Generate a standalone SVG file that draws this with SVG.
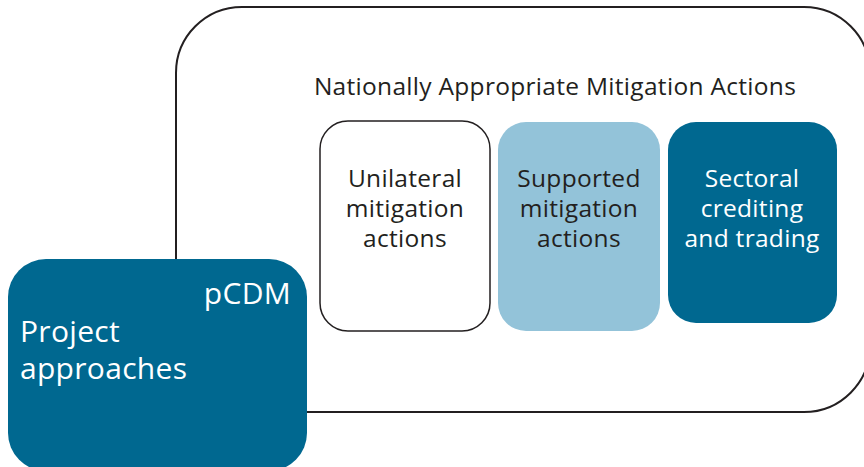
<svg xmlns="http://www.w3.org/2000/svg" width="864" height="467" viewBox="0 0 864 467">
<style>
text{font-family:"Open Sans","Noto Sans","Liberation Sans",sans-serif;}
.t{font-size:24.5px;fill:#231f20;text-anchor:middle;letter-spacing:0.3px;}
.w{fill:#ffffff;}
.dk{fill:#006890;}
.b{font-size:30px;fill:#ffffff;letter-spacing:0.3px;}
</style>
<rect width="864" height="467" fill="#ffffff"/>
<g id="namas">
<rect x="176" y="7" width="694" height="405" rx="66" ry="66" fill="#ffffff" stroke="#231f20" stroke-width="2"/>
<text x="555" y="95" class="t">Nationally Appropriate Mitigation Actions</text>
</g>
<g id="unilateral">
<rect x="320" y="121" width="170" height="210" rx="28" fill="#ffffff" stroke="#231f20" stroke-width="1.5"/>
<text class="t" x="405" y="187">Unilateral</text>
<text class="t" x="405" y="217">mitigation</text>
<text class="t" x="405" y="247">actions</text>
</g>
<g id="supported">
<rect x="498" y="122" width="162" height="209" rx="28" fill="#93c3d9"/>
<text class="t" x="579" y="187">Supported</text>
<text class="t" x="579" y="217">mitigation</text>
<text class="t" x="579" y="247">actions</text>
</g>
<g id="sectoral">
<rect x="668" y="122" width="169" height="201" rx="28" class="dk"/>
<text class="t w" x="752" y="187">Sectoral</text>
<text class="t w" x="752" y="217">crediting</text>
<text class="t w" x="752" y="247">and trading</text>
</g>
<g id="pcdm">
<rect x="8" y="259" width="299" height="212" rx="38" class="dk"/>
<text x="291" y="304" class="b" text-anchor="end">pCDM</text>
<text x="20" y="342" class="b">Project</text>
<text x="20" y="379" class="b">approaches</text>
</g>
<g id="connectors"/>
</svg>
